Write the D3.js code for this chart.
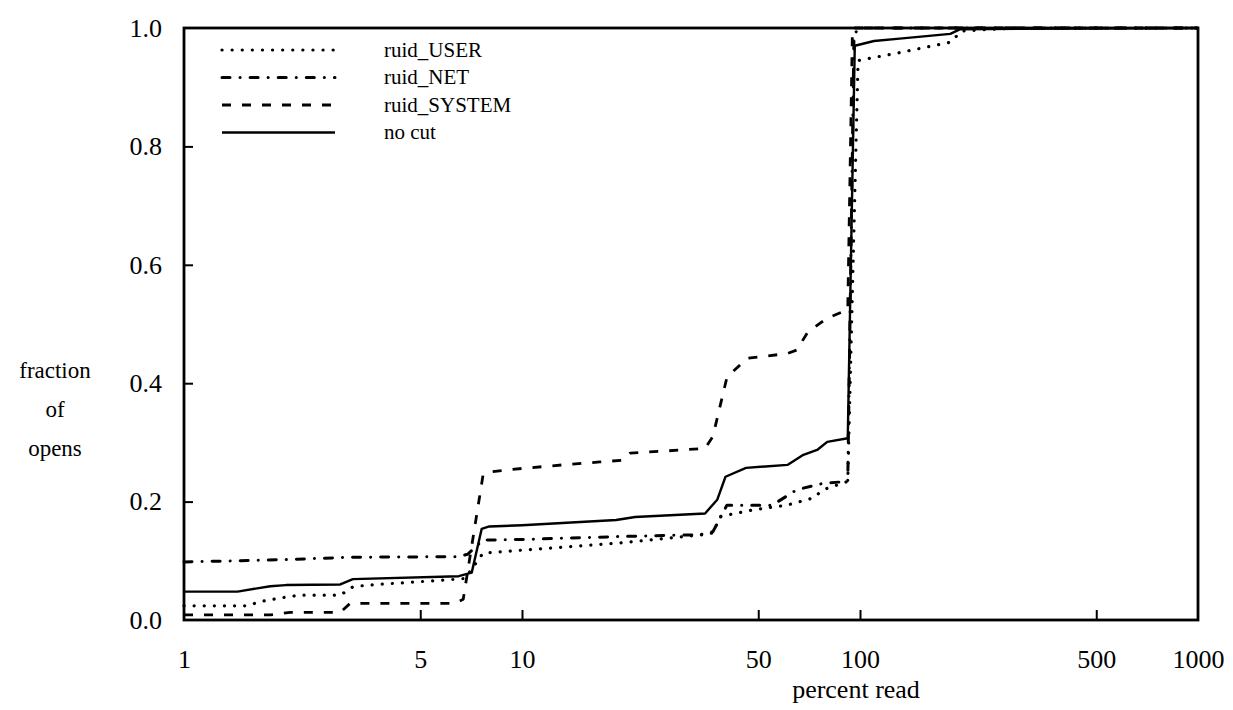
<!DOCTYPE html>
<html>
<head>
<meta charset="utf-8">
<script src="https://cdn.jsdelivr.net/npm/d3@7"></script>
<style>
  html, body { margin: 0; padding: 0; background: #fff; }
  svg { display: block; }
  text { font-family: "Liberation Serif", "DejaVu Serif", serif; fill: #000; }
</style>
</head>
<body>
<script>
// Cumulative fraction of opens vs. percent of file read, by user-id class
const seriesNames = ["ruid_USER", "ruid_NET", "ruid_SYSTEM", "no cut"];

const userPct  = [1, 1.54, 1.68, 1.92, 2.2, 2.9, 3.16, 3.5, 6.1, 6.78, 7.67, 10, 19.5, 34.2, 36.7, 38.6, 48.2, 60.8, 72.6, 77.8, 92, 98.7, 130, 185, 200, 290, 1000];
const userFrac = [0.024, 0.024, 0.031, 0.037, 0.042, 0.042, 0.056, 0.059, 0.068, 0.07, 0.113, 0.118, 0.13, 0.144, 0.147, 0.175, 0.186, 0.194, 0.206, 0.22, 0.234, 0.945, 0.958, 0.976, 0.995, 1.0, 1.0];

const netPct  = [1, 2, 3.1, 6.5, 6.9, 7.67, 10, 19.5, 33.6, 36.7, 40.4, 55, 65, 78, 92, 96, 100, 1000];
const netFrac = [0.098, 0.102, 0.106, 0.107, 0.111, 0.135, 0.136, 0.141, 0.144, 0.149, 0.194, 0.194, 0.22, 0.231, 0.234, 0.99, 1.0, 1.0];

const sysPct  = [1, 1.8, 2.06, 2.9, 3.1, 6.33, 6.7, 7.67, 8, 10, 13.2, 17, 19.9, 20.9, 29.3, 34.8, 36.7, 40.4, 46.3, 60.8, 65, 70, 80, 92, 95, 1000];
const sysFrac = [0.0085, 0.0085, 0.013, 0.013, 0.028, 0.028, 0.035, 0.245, 0.25, 0.256, 0.262, 0.267, 0.27, 0.282, 0.287, 0.29, 0.31, 0.41, 0.442, 0.45, 0.456, 0.486, 0.51, 0.524, 1.0, 1.0];

const allPct  = [1, 1.44, 1.8, 2.0, 2.9, 3.16, 6.5, 7.1, 7.6, 8, 10, 19, 21.6, 34.8, 37.8, 40, 46, 61, 68, 75, 80, 92, 96.5, 110, 131, 185, 198, 1000];
const allFrac = [0.048, 0.048, 0.057, 0.059, 0.06, 0.069, 0.074, 0.08, 0.154, 0.158, 0.16, 0.169, 0.174, 0.18, 0.203, 0.242, 0.257, 0.262, 0.279, 0.288, 0.301, 0.307, 0.97, 0.978, 0.982, 0.99, 0.998, 1.0];

const xTicks = [1, 5, 10, 50, 100, 500, 1000];
const yTicks = [0, 0.2, 0.4, 0.6, 0.8, 1.0];
const yLabelLines = ["fraction", "of", "opens"];
const xLabel = "percent read";

const W = 1233, H = 710;
const plot = { left: 184, right: 1198, top: 28, bottom: 620 };

const svg = d3.select("body").append("svg").attr("width", W).attr("height", H);

const x = d3.scaleLog().domain([1, 1000]).range([plot.left, plot.right]);
const y = d3.scaleLinear().domain([0, 1]).range([plot.bottom, plot.top]);

// line styles per series
const styles = {
  "ruid_USER":   { dash: "0.1,10", width: 3.2, cap: "round" },
  "ruid_NET":    { dash: "8,10,0.1,10", width: 3, cap: "round" },
  "ruid_SYSTEM": { dash: "9,11", width: 2.8, cap: "butt" },
  "no cut":      { dash: null, width: 2.4, cap: "butt" }
};

const series = [
  { name: "ruid_USER", pct: userPct, frac: userFrac },
  { name: "ruid_NET", pct: netPct, frac: netFrac },
  { name: "ruid_SYSTEM", pct: sysPct, frac: sysFrac },
  { name: "no cut", pct: allPct, frac: allFrac }
];

const line = d3.line().x(d => x(d[0])).y(d => y(d[1]));

svg.append("g").selectAll("path")
  .data(series)
  .join("path")
  .attr("fill", "none")
  .attr("stroke", "#000")
  .attr("stroke-width", d => styles[d.name].width)
  .attr("stroke-linecap", d => styles[d.name].cap)
  .attr("stroke-linejoin", "round")
  .attr("stroke-dasharray", d => styles[d.name].dash)
  .attr("d", d => line(d.pct.map((p, i) => [p, d.frac[i]])));

// axes with inward ticks
const xAxis = d3.axisBottom(x)
  .tickValues(xTicks)
  .tickFormat(d3.format("d"))
  .tickSizeInner(-10)
  .tickSizeOuter(0)
  .tickPadding(30);

const gx = svg.append("g").attr("transform", `translate(0,${plot.bottom})`).call(xAxis);
gx.select(".domain").remove();
gx.selectAll(".tick line").attr("stroke", "#000").attr("stroke-width", 2)
  .attr("display", d => (d === 1 || d === 1000) ? "none" : null);
gx.selectAll(".tick text").attr("font-size", 26).attr("font-family", "Liberation Serif");

const yAxis = d3.axisLeft(y)
  .tickValues(yTicks)
  .tickFormat(d3.format(".1f"))
  .tickSizeInner(-9)
  .tickSizeOuter(0)
  .tickPadding(22);

const gy = svg.append("g").attr("transform", `translate(${plot.left},0)`).call(yAxis);
gy.select(".domain").remove();
gy.selectAll(".tick line").attr("stroke", "#000").attr("stroke-width", 2)
  .attr("display", d => (d === 0 || d === 1) ? "none" : null);
gy.selectAll(".tick text").attr("font-size", 26).attr("font-family", "Liberation Serif");

// frame
svg.append("rect")
  .attr("x", plot.left).attr("y", plot.top)
  .attr("width", plot.right - plot.left).attr("height", plot.bottom - plot.top)
  .attr("fill", "none").attr("stroke", "#000").attr("stroke-width", 2.8);

// axis titles
svg.append("text")
  .attr("x", x(100) - 4).attr("y", 698)
  .attr("text-anchor", "middle").attr("font-size", 26)
  .text(xLabel);

svg.append("g").selectAll("text")
  .data(yLabelLines)
  .join("text")
  .attr("x", 55)
  .attr("y", (d, i) => 378 + i * 39)
  .attr("text-anchor", "middle").attr("font-size", 23)
  .attr("font-family", "DejaVu Serif")
  .text(d => d);

// legend
const legend = svg.append("g");
const legendRows = legend.selectAll("g")
  .data(series)
  .join("g")
  .attr("transform", (d, i) => `translate(0,${50 + i * 27.5})`);

legendRows.append("line")
  .attr("x1", 222).attr("x2", 335).attr("y1", 0).attr("y2", 0)
  .attr("stroke", "#000")
  .attr("stroke-width", d => styles[d.name].width)
  .attr("stroke-linecap", d => styles[d.name].cap)
  .attr("stroke-dasharray", d => styles[d.name].dash);

legendRows.append("text")
  .attr("x", 384).attr("y", 0).attr("dy", "0.33em")
  .attr("font-size", 21)
  .text(d => d.name);
</script>
</body>
</html>
